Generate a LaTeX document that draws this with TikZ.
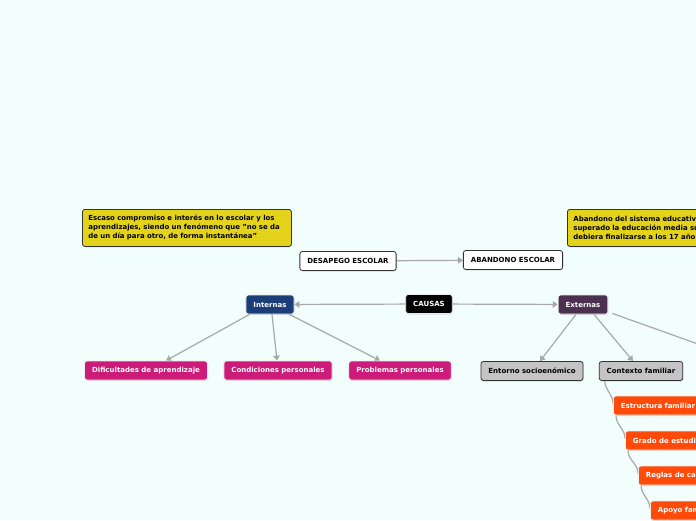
\documentclass[tikz,border=0pt]{standalone}
\usepackage{fontspec}
\setmainfont{DejaVu Sans}
\usepackage{xcolor}
\usetikzlibrary{arrows.meta,positioning,shadows,calc,backgrounds}

\definecolor{fondo}{HTML}{F2FEFC}
\definecolor{amarillo}{HTML}{E3D31B}
\definecolor{azulint}{HTML}{1B3E78}
\definecolor{moradoext}{HTML}{4B3050}
\definecolor{rosa}{HTML}{CC1B78}
\definecolor{grisclaro}{HTML}{C4C4C4}
\definecolor{naranja}{HTML}{FF4A0A}
\definecolor{borde}{HTML}{333333}
\definecolor{linea}{HTML}{A8A8A8}

\begin{document}
\begin{tikzpicture}[
	x=1pt, y=-1pt,
	font=\fontsize{7}{9}\selectfont\bfseries,
	caja/.style={rectangle, rounded corners=2.5pt, minimum height=19pt, inner xsep=7.5pt, inner ysep=2pt, line width=0.8pt,
		drop shadow={shadow xshift=0.6pt, shadow yshift=-1pt, opacity=0.25}},
	blanca/.style={caja, draw=borde, fill=white, text=black},
	nota/.style={caja, draw=borde, fill=amarillo, text=black, align=left, inner xsep=6pt, anchor=north west, minimum height=37pt,
		font=\fontsize{6.95}{9}\selectfont\bfseries},
	color/.style={caja, draw=white!85!gray, fill=#1, text=white},
	gris/.style={caja, draw=borde, fill=grisclaro, text=black},
	hijo/.style={color=naranja, anchor=west},
	arr/.style={-{Triangle[length=5pt, width=6.5pt]}, draw=linea, line width=1.2pt},
	rama/.style={draw=linea, line width=1.2pt}
]
\useasboundingbox (0,0) rectangle (696,520);
\clip (0,0) rectangle (696,520);

% notas
\node[nota, text width=197pt] (nota1) at (82,209) {Escaso compromiso e interés en lo escolar y los\\aprendizajes, siendo un fenómeno que "no se da\\de un día para otro, de forma instantánea"};
\node[nota, text width=240pt] (nota2) at (567,209) {Abandono del sistema educativo sin haber\\superado la educación media superior, que\\debiera finalizarse a los 17 años};

% centro
\node[blanca] (desapego) at (348,261) {DESAPEGO ESCOLAR};
\node[blanca] (abandono) at (513,260) {ABANDONO ESCOLAR};
\node[color=black] (causas) at (429,304) {CAUSAS};
\node[color=azulint] (internas) at (270,304.5) {Internas};
\node[color=moradoext] (externas) at (583,304.5) {Externas};

% internas
\node[color=rosa] (dificultades) at (146,370.5) {Dificultades de aprendizaje};
\node[color=rosa] (condiciones) at (278,370.5) {Condiciones personales};
\node[color=rosa] (problemas) at (400,370.5) {Problemas personales};

% externas
\node[gris] (entorno) at (532,371) {Entorno socioenómico};
\node[gris] (contexto) at (641,371) {Contexto familiar};
\node[hijo] (estructura) at (613,405.5) {Estructura familiar};
\node[hijo] (grado) at (625,440.5) {Grado de estudios};
\node[hijo] (reglas) at (638,475.5) {Reglas de casa};
\node[hijo] (apoyo) at (650,510.5) {Apoyo familiar};
\coordinate (fuera) at (740,359);

\begin{scope}[on background layer]
\clip (0,0) rectangle (696,520);
\fill[fondo] (0,0) rectangle (696,520);
\draw[arr] (desapego) -- (abandono);
\draw[arr] (causas) -- (internas);
\draw[arr] (causas) -- (externas);
\draw[arr] ($(internas.south west)+(4,0)$) -- ($(dificultades.north)+(20,0)$);
\draw[arr] ($(internas.south)+(2,0)$) -- ($(condiciones.north)+(-1,0)$);
\draw[arr] ($(internas.south east)+(-5,0)$) -- ($(problemas.north)+(-20,0)$);
\draw[arr] ($(externas.south)+(-7,0)$) -- ($(entorno.north)+(8,0)$);
\draw[arr] ($(externas.south)+(11,0)$) -- ($(contexto.north)+(-8,0)$);
\draw[rama] ($(externas.south east)+(4,-1)$) -- (fuera);
% cadena de hijos de contexto familiar
\draw[rama] ($(contexto.south west)+(6,0)$) to[out=-90, in=90] ($(estructura.west)+(0,-2)$);
\draw[rama] ($(estructura.south west)+(3,0)$) to[out=-90, in=90] ($(grado.west)+(0,-2)$);
\draw[rama] ($(grado.south west)+(3,0)$) to[out=-90, in=90] ($(reglas.west)+(0,-2)$);
\draw[rama] ($(reglas.south west)+(3,0)$) to[out=-90, in=90] ($(apoyo.west)+(0,-2)$);
\end{scope}
\end{tikzpicture}
\end{document}
